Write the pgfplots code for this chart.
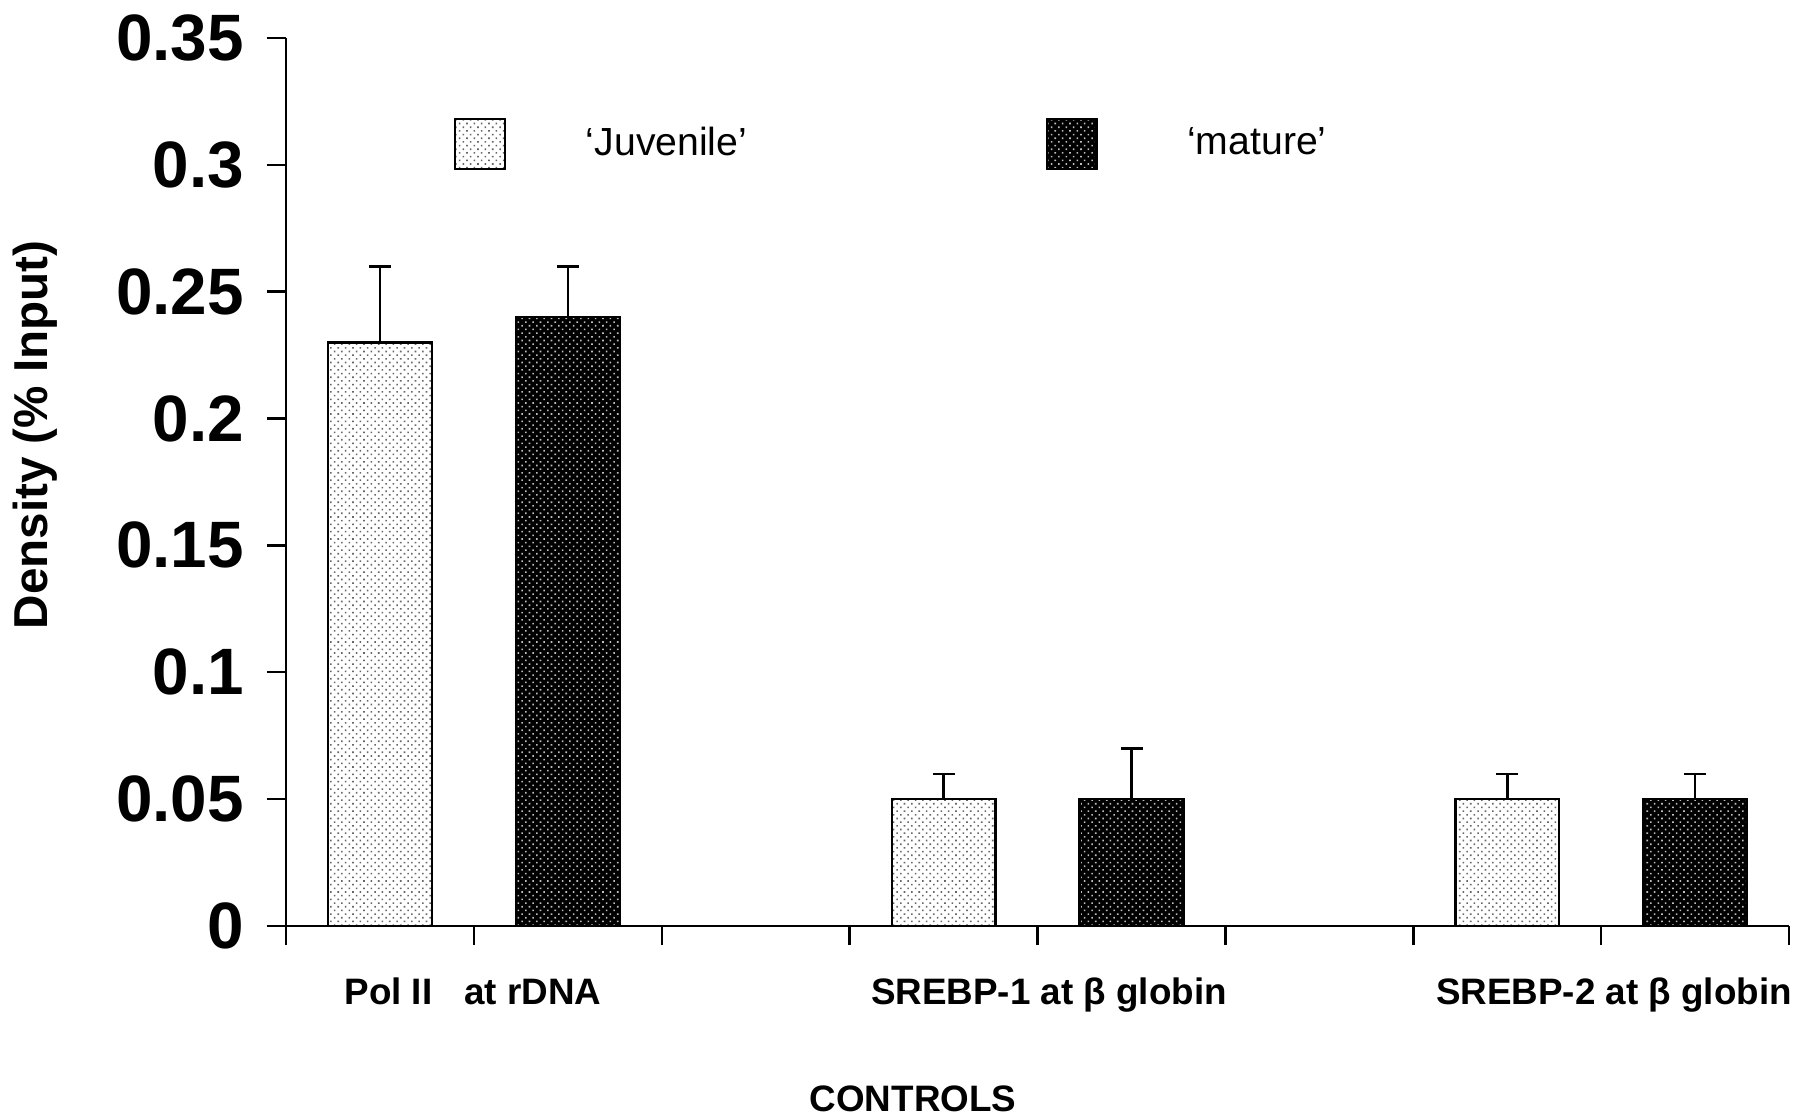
\documentclass[border=0pt]{standalone}
\usepackage{fontspec}
\setmainfont{Liberation Sans}
\usepackage{pgfplots}
\usepackage{pgfplotstable}
\pgfplotsset{compat=1.18}
\usetikzlibrary{patterns.meta}

% bar positions, heights and upper error
\pgfplotstableread{
x   y    e
0.5 0.23 0.03
3.5 0.05 0.01
6.5 0.05 0.01
}\juvenile
\pgfplotstableread{
x   y    e
1.5 0.24 0.02
4.5 0.05 0.02
7.5 0.05 0.01
}\mature

\pgfplotsset{
  sqlegend/.style={legend image code/.code={\draw[##1, line width=0.6pt] (0pt,-6.2pt) rectangle (12.4pt,6.2pt);}},
  juv/.style={draw=black, line width=0.6pt, fill=white,
    postaction={pattern={Dots[distance=1.3pt, radius=0.28pt, angle=45]}, pattern color=black!60}},
  mat/.style={draw=black, line width=0.6pt, fill=black,
    postaction={pattern={Dots[distance=1.3pt, radius=0.28pt, angle=45]}, pattern color=black!25}},
}
\tikzset{catlabel/.style={inner sep=0pt, font=\bfseries\fontsize{9.2}{11}\selectfont}}

\begin{document}
\begin{tikzpicture}
\path[use as bounding box] (-71.5pt,-48.5pt) rectangle (381pt,231.5pt);
\begin{axis}[
  at={(0,0)}, anchor=south west,
  scale only axis, width=375.8pt, height=222pt,
  xmin=0, xmax=8, ymin=0, ymax=0.35,
  axis x line*=bottom, axis y line*=left,
  axis line style={line width=0.6pt, -},
  xtick={0,1,2,3,4,5,6,7,8}, xticklabels={},
  ytick={0,0.05,0.1,0.15,0.2,0.25,0.3,0.35},
  tick align=outside, major tick length=4.8pt,
  tick style={line width=0.6pt, black},
  yticklabel style={font=\bfseries\fontsize{16.4}{17}\selectfont, xshift=-2.2pt},
  /pgf/number format/assume math mode=true,
  /pgf/number format/fixed, /pgf/number format/precision=2,
  ylabel={Density (\% Input)},
  every axis y label/.style={at={(axis description cs:-0.1666,0.553)}, rotate=90, anchor=center,
    font=\bfseries\fontsize{11.9}{13}\selectfont},
  clip=false,
  ybar, bar width=0.552, bar shift=0pt,
  error bars/y dir=plus, error bars/y explicit,
  error bars/error bar style={line width=0.6pt, black},
  error bars/error mark options={rotate=90, mark size=2.75pt, line width=0.6pt, black},
  legend columns=2,
  legend style={at={(0.1112,0.8806)}, anchor=west, draw=none, fill=none, inner sep=0pt,
    font=\fontsize{9.8}{11}\selectfont,
    /tikz/every odd column/.append style={column sep=18pt},
    /tikz/every even column/.append style={column sep=72.6pt}},
  legend cell align=left,
]
\addplot[juv, sqlegend] table[x=x, y=y, y error=e] {\juvenile};
\addlegendentry{‘Juvenile’}
\addplot[mat, sqlegend] table[x=x, y=y, y error=e] {\mature};
\addlegendentry{\hspace{2.4pt}‘mature’}

\node[catlabel, anchor=base west] at (axis cs:0.307,0) [yshift=-19.6pt] {Pol II\hspace{8pt}at rDNA};
\node[catlabel, anchor=base west] at (axis cs:3.11,0) [yshift=-19.6pt] {SREBP-1 at β globin};
\node[catlabel, anchor=base west] at (axis cs:6.117,0) [yshift=-19.6pt] {SREBP-2 at β globin};
\node[catlabel, anchor=base] at (axis cs:3.337,0) [yshift=-46.5pt] {CONTROLS};
\end{axis}
\end{tikzpicture}
\end{document}
